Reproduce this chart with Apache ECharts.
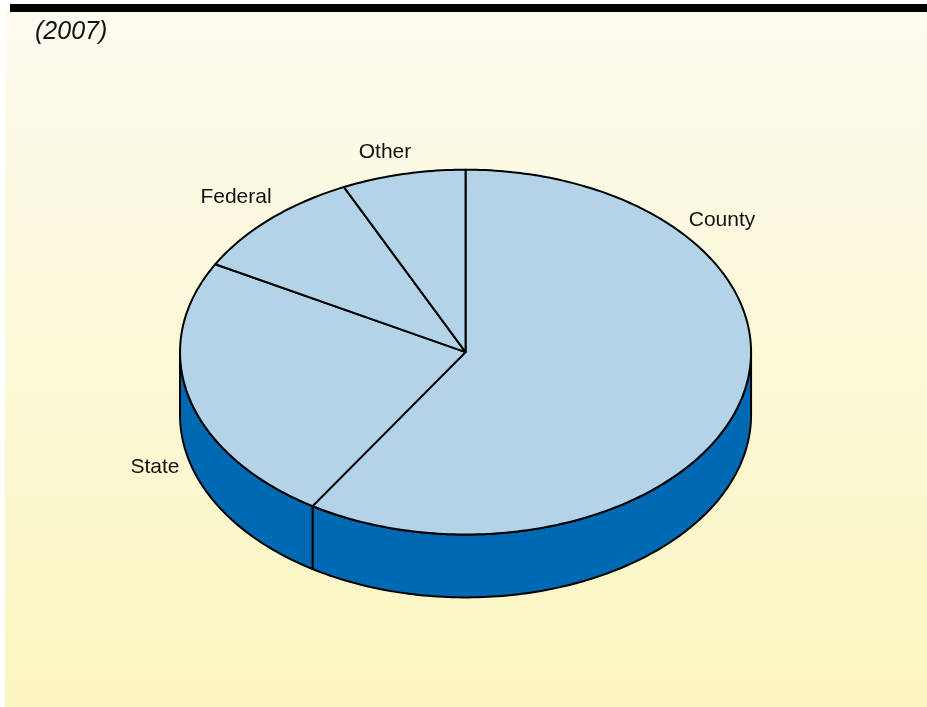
<!DOCTYPE html>
<html>
<head>
<meta charset="utf-8">
<script src="https://cdn.jsdelivr.net/npm/echarts@6/dist/echarts.min.js"></script>
<style>
html,body{margin:0;padding:0;background:#fff;}
#chart{width:927px;height:707px;}
</style>
</head>
<body>
<div id="chart"></div>
<script>
const categories = ['County', 'State', 'Federal', 'Other'];
const shares = [59, 24, 10, 7];
const title = '(2007)';

const chart = echarts.init(document.getElementById('chart'));

const total = shares.reduce((a, b) => a + b, 0);
const starts = [];
let acc = 90;
shares.forEach(v => { starts.push(acc); acc -= v / total * 360; });

function renderItem(params, api) {
  const i = params.dataIndex;
  const W = api.getWidth(), H = api.getHeight();
  const cx = W * 0.5022, cy = H * 0.498;
  const rx = W * 0.308, ry = H * 0.258;
  const depth = H * 0.089;
  const a2 = starts[i];
  const sweep = api.value(1) / total * 360;
  const a1 = a2 - sweep;
  const pt = (deg, dy) => {
    const r = deg * Math.PI / 180;
    return [cx + rx * Math.cos(r), cy - ry * Math.sin(r) + (dy || 0)];
  };
  const arc = (from, to, dy) => {
    const pts = [];
    const n = Math.max(2, Math.ceil(Math.abs(to - from) / 1));
    for (let k = 0; k <= n; k++) pts.push(pt(from + (to - from) * k / n, dy));
    return pts;
  };
  const children = [];
  let lo = ((a1 % 360) + 360) % 360;
  let hi = lo + sweep;
  [[180, 360], [540, 720]].forEach(([s, e]) => {
    const l = Math.max(lo, s), h = Math.min(hi, e);
    if (h > l) {
      const pts = arc(l, h, 0).concat(arc(h, l, depth));
      children.push({
        type: 'polygon', z2: 1,
        shape: { points: pts },
        style: { fill: '#0069b4', stroke: '#000', lineWidth: 2, lineJoin: 'round' }
      });
    }
  });
  const top = [[cx, cy]].concat(arc(a2, a1, 0));
  children.push({
    type: 'polygon', z2: 10,
    shape: { points: top },
    style: { fill: '#b3d3e8', stroke: '#000', lineWidth: 2, lineJoin: 'round' }
  });
  return { type: 'group', children: children };
}

const labelFont = { fontFamily: 'Liberation Sans, Arial, sans-serif', fontSize: 21, fill: '#111' };

chart.setOption({
  backgroundColor: '#ffffff',
  animation: false,
  graphic: [
    {
      type: 'rect', z: -10, silent: true,
      shape: { x: 5, y: 10, width: 922, height: 697 },
      style: {
        fill: new echarts.graphic.LinearGradient(0, 0, 0, 1, [
          { offset: 0, color: '#fdfbef' },
          { offset: 1, color: '#faf5bf' }
        ])
      }
    },
    { type: 'rect', z: 5, shape: { x: 10, y: 4, width: 917, height: 8 }, style: { fill: '#000' } },
    { type: 'text', z: 5, left: 35, top: 20, style: Object.assign({}, labelFont, { text: title, fontStyle: 'italic', fontSize: 25 }) },
    { type: 'text', z: 5, x: 722, y: 220, style: Object.assign({}, labelFont, { text: categories[0], align: 'center', verticalAlign: 'middle' }) },
    { type: 'text', z: 5, x: 155, y: 467, style: Object.assign({}, labelFont, { text: categories[1], align: 'center', verticalAlign: 'middle' }) },
    { type: 'text', z: 5, x: 236, y: 197, style: Object.assign({}, labelFont, { text: categories[2], align: 'center', verticalAlign: 'middle' }) },
    { type: 'text', z: 5, x: 385, y: 152, style: Object.assign({}, labelFont, { text: categories[3], align: 'center', verticalAlign: 'middle' }) }
  ],
  series: [{
    type: 'custom',
    coordinateSystem: 'none',
    renderItem: renderItem,
    data: categories.map((c, i) => ({ name: c, value: [i, shares[i]] }))
  }]
});
</script>
</body>
</html>
